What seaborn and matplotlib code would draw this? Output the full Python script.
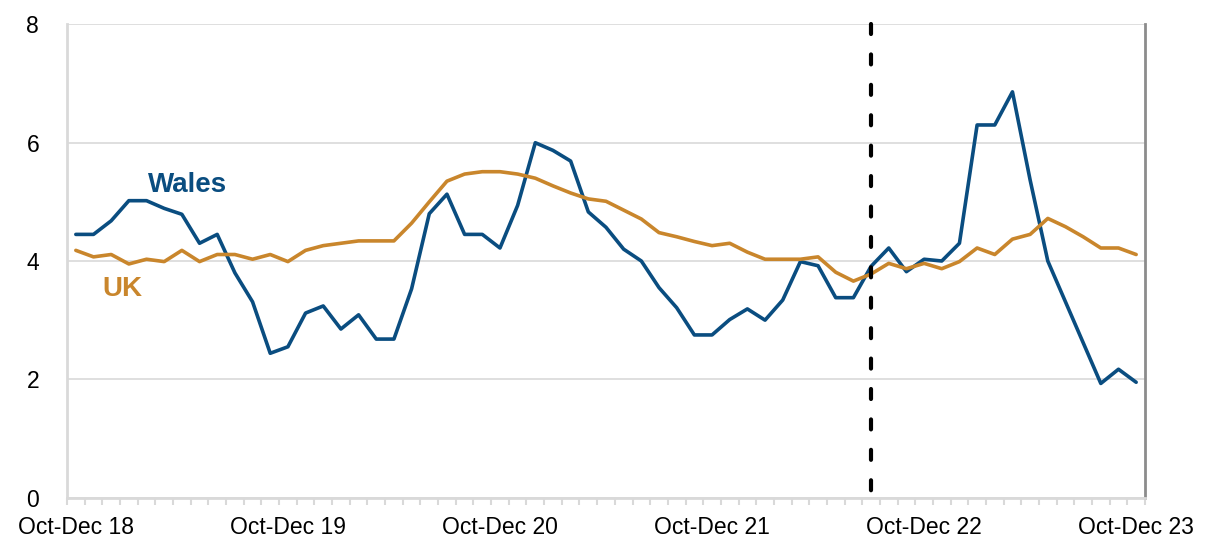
import numpy as np
import pandas as pd
import matplotlib
matplotlib.use("Agg")
import matplotlib.pyplot as plt
from matplotlib.ticker import FixedLocator
import seaborn as sns

# Rolling quarterly periods, Oct-Dec 18 to Oct-Dec 23 (61 periods)
months = ["Jan", "Feb", "Mar", "Apr", "May", "Jun", "Jul", "Aug", "Sep", "Oct", "Nov", "Dec"]
periods = []
for k in range(61):
    m = 9 + k  # start month index from Oct 2018
    y0, s = divmod(m, 12)
    y1, e = divmod(m + 2, 12)
    periods.append(f"{months[s]}-{months[e]} {(18 + y1) % 100:02d}")

wales = [4.45, 4.45, 4.68, 5.02, 5.02, 4.89, 4.79, 4.30, 4.45, 3.80,
         3.31, 2.44, 2.55, 3.12, 3.24, 2.85, 3.09, 2.68, 2.68, 3.53,
         4.80, 5.13, 4.45, 4.45, 4.22, 4.94, 6.00, 5.87, 5.69, 4.83,
         4.57, 4.20, 4.00, 3.55, 3.21, 2.75, 2.75, 3.01, 3.19, 3.00,
         3.34, 3.99, 3.92, 3.38, 3.38, 3.91, 4.22, 3.82, 4.03, 4.00,
         4.30, 6.30, 6.30, 6.86, 5.37, 4.00, 3.31, 2.62, 1.93, 2.17,
         1.95]
uk = [4.18, 4.07, 4.11, 3.95, 4.03, 3.99, 4.18, 3.99, 4.11, 4.11,
      4.03, 4.11, 3.99, 4.18, 4.26, 4.30, 4.34, 4.34, 4.34, 4.64,
      5.00, 5.35, 5.47, 5.51, 5.51, 5.47, 5.40, 5.27, 5.15, 5.05,
      5.01, 4.86, 4.71, 4.48, 4.41, 4.33, 4.26, 4.30, 4.15, 4.03,
      4.03, 4.03, 4.07, 3.81, 3.66, 3.78, 3.96, 3.87, 3.96, 3.87,
      3.99, 4.22, 4.11, 4.37, 4.45, 4.72, 4.58, 4.41, 4.22, 4.22,
      4.11]
break_period = "Jul-Sep 22"

wales_col = "#0A4D80"
uk_col = "#C9862C"

df = pd.DataFrame({"pos": range(len(periods)), "period": periods,
                   "Wales": wales, "UK": uk})
long = df.melt(id_vars=["pos", "period"], value_vars=["Wales", "UK"],
               var_name="area", value_name="rate")

sns.set_style("white")
plt.rcParams["font.family"] = ["Liberation Sans", "DejaVu Sans"]

fig = plt.figure(figsize=(12.05, 5.38), dpi=100)
ax = fig.add_axes([0.0556, 0.0751, 0.8946, 0.8795])

sns.lineplot(data=long, x="pos", y="rate", hue="area",
             palette={"Wales": wales_col, "UK": uk_col},
             linewidth=2.6, legend=False, ax=ax)

# series break marker, dashes run from the top down
vl = ax.axvline(periods.index(break_period), color="black", lw=3.0,
                zorder=5, clip_on=False)
vl.set_ydata([1.0, -0.012])
vl.set_dashes((2.4, 4.9))
vl.set_dash_capstyle("round")

ax.set_xlim(-0.5, len(periods) - 0.5)
ax.set_ylim(0, 8)
ax.set_yticks([0, 2, 4, 6, 8])
ax.set_yticklabels(["0", "2", "4", "6", "8"])
ax.yaxis.grid(True, color="#D9D9D9", lw=1.2)
ax.set_axisbelow(True)

ax.set_xticks(range(0, len(periods), 12))
ax.set_xticklabels([periods[i] for i in range(0, len(periods), 12)])
ax.xaxis.set_minor_locator(FixedLocator(np.arange(-0.5, len(periods), 1)))
ax.tick_params(axis="x", which="major", length=0, pad=13, labelsize=16.5,
               labelcolor="black")
ax.tick_params(axis="x", which="minor", length=5, width=1.5,
               color="#D9D9D9", direction="out", bottom=True)
ax.tick_params(axis="y", length=0, pad=20, labelsize=16.5, labelcolor="black")
ax.set_xlabel("")
ax.set_ylabel("")

for side in ["left", "bottom"]:
    ax.spines[side].set_color("#D9D9D9")
    ax.spines[side].set_linewidth(2)
ax.spines["top"].set_visible(False)
ax.spines["right"].set_color("#8C8C8C")
ax.spines["right"].set_linewidth(2)

ax.text(4.1, 5.28, "Wales", color=wales_col, fontsize=20, fontweight="bold",
        va="center", ha="left")
ax.text(1.5, 3.52, "UK", color=uk_col, fontsize=20, fontweight="bold",
        va="center", ha="left")

fig.savefig("out.png", dpi=100)
